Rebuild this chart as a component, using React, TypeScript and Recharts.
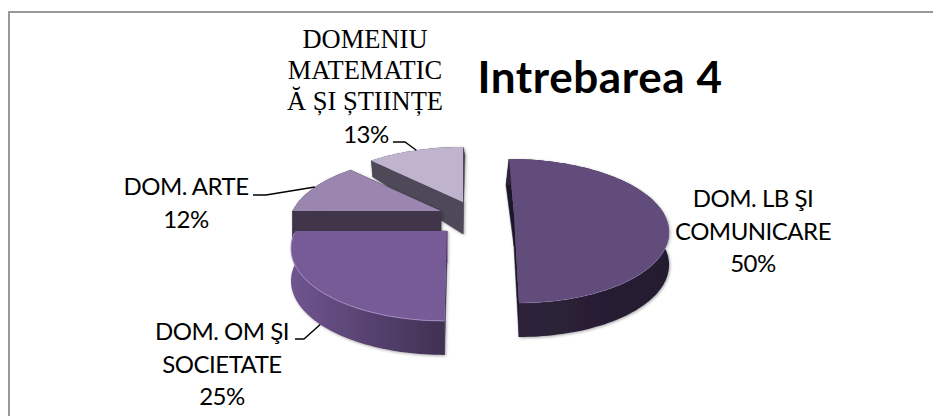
import React from 'react';
import { PieChart, Pie } from 'recharts';

// drawn counter-clockwise from 12 o'clock so the front slices paint last
const categories = ['DOMENIU MATEMATICĂ ȘI ȘTIINȚE', 'DOM. ARTE', 'DOM. OM ŞI SOCIETATE', 'DOM. LB ŞI COMUNICARE'];
const values = [13, 12, 25, 50];
const percents = ['13%', '12%', '25%', '50%'];

const data = categories.map((name, i) => ({ name, value: values[i], slot: i }));

const CX = 470;
const CY = 220;
const RADIUS = 150;
const TILT = 72; // vertical half axis of the ellipse
const PERSPECTIVE = 0.236;

const slices = [
  { dx: -7, dy: -18, r: 1, lean: 0, backDrop: 23, skew: -2, top: '#bfb3cd', wall: '#4e4858', face: '#4e4858' },
  { dx: -29, dy: -9, r: 0.99, lean: 0, backDrop: 6, skew: 0, top: '#9a86ae', wall: '#413548', face: '#413548' },
  { dx: -23, dy: 11, r: 1.01, lean: -2.5, backDrop: 6, skew: 0, top: '#765b96', wall: 'url(#omWall)', face: '#45345c' },
  { dx: 44, dy: -6, r: 1, lean: 5, backDrop: 6, skew: 3, top: '#624c7c', wall: 'url(#lbWall)', face: '#1f1829' },
];

const labels = [
  { x: 366, y: 143, lines: [] as string[], elbow: [[393, 142], [405, 142]] },
  { x: 186, y: 195, lines: ['DOM. ARTE'], elbow: [[253, 195], [266, 195]] },
  { x: 222, y: 340, lines: ['DOM. OM ŞI', 'SOCIETATE'], elbow: [[295, 339], [304, 339]] },
  { x: 753, y: 207, lines: ['DOM. LB ŞI', 'COMUNICARE'], elbow: [] as number[][] },
];
const topLabelLines = ['DOMENIU', 'MATEMATIC', 'Ă ȘI ȘTIINȚE'];

const depthAt = (y: number, backDrop: number) => (y >= 0 ? 32 + 2 * y : 32 + backDrop * y);

const project = (slot: number, angle: number, unit: number, cx = CX, cy = CY, radius = RADIUS) => {
  const s = slices[slot];
  const rad = (angle * Math.PI) / 180;
  const x = Math.cos(rad) * unit;
  const y = -Math.sin(rad) * unit;
  const k = 1 + PERSPECTIVE * y;
  return {
    x: cx + s.dx + x * radius * s.r * k + s.lean * y,
    y: cy + s.dy + y * TILT * s.r * k,
    depth: depthAt(y, s.backDrop),
    bx: s.skew * Math.max(0, -y) * -1,
    front: y,
  };
};

const toPath = (pts: number[][]) => 'M' + pts.map((p) => `${p[0].toFixed(1)},${p[1].toFixed(1)}`).join('L') + 'Z';

const Slice3D = (props: any) => {
  const { cx, cy, outerRadius, startAngle, endAngle, name } = props;
  const slot = categories.indexOf(name);
  const s = slices[slot];
  const a0 = Math.min(startAngle, endAngle);
  const a1 = Math.max(startAngle, endAngle);
  const arc: any[] = [];
  for (let a = a0; a < a1; a += 1.5) arc.push(project(slot, a, 1, cx, cy, outerRadius));
  arc.push(project(slot, a1, 1, cx, cy, outerRadius));
  const apex = project(slot, 0, 0, cx, cy, outerRadius);

  const quad = (p: any) =>
    toPath([
      [apex.x, apex.y],
      [p.x, p.y],
      [p.x + p.bx, p.y + p.depth],
      [apex.x, apex.y + apex.depth],
    ]);
  const first = arc[0];
  const last = arc[arc.length - 1];
  const wall = [
    ...arc.map((p) => [p.x, p.y]),
    ...[...arc].reverse().map((p) => [p.x + p.bx, p.y + p.depth]),
  ];
  const topFace = [[apex.x, apex.y], ...arc.map((p) => [p.x, p.y])];
  const frontRim = arc.filter((p) => p.front > 0).map((p) => `${p.x.toFixed(1)},${p.y.toFixed(1)}`).join(' ');

  return (
    <g>
      <g filter="url(#softShadow)">
        <path d={quad(first)} fill={s.face} stroke={s.face} strokeWidth={0.5} />
        <path d={quad(last)} fill={s.face} stroke={s.face} strokeWidth={0.5} />
        <path d={toPath(wall)} fill={s.wall} />
      </g>
      <path d={toPath(topFace)} fill={s.top} />
      {frontRim && <polyline points={frontRim} fill="none" stroke="#a78fc7" strokeOpacity={slot === 2 ? 0.9 : 0.25} strokeWidth={1} />}
    </g>
  );
};

const labelText = { textAnchor: 'middle', fontFamily: 'Lato', fontSize: 24, letterSpacing: -0.5, fill: '#000' } as const;

const SliceLabel = (props: any) => {
  const { name, midAngle, cx, cy, outerRadius } = props;
  const slot = categories.indexOf(name);
  const l = labels[slot];
  const lineGap = 32.5;
  const end = project(slot, midAngle, 1, cx, cy, outerRadius);
  const endY = end.front > 0 ? end.y + end.depth : end.y;
  return (
    <g>
      {l.elbow.length > 0 && (
        <polyline
          points={[...l.elbow, [end.x, endY]].map((p) => p.join(',')).join(' ')}
          fill="none"
          stroke="#000"
          strokeWidth={1.4}
        />
      )}
      {l.lines.map((t, i) => (
        <text key={t} x={l.x} y={l.y + i * lineGap} {...labelText}>
          {t}
        </text>
      ))}
      <text x={l.x} y={l.y + l.lines.length * lineGap} {...labelText}>
        {percents[slot]}
      </text>
    </g>
  );
};

export default function App() {
  return (
    <div style={{ position: 'absolute', left: 0, top: 0, width: 933, height: 416, background: '#fff', overflow: 'hidden' }}>
      <div style={{ position: 'absolute', left: 8, top: 11, right: 0, bottom: 0, borderLeft: '2px solid #999', borderTop: '2px solid #999' }} />
      <div style={{ position: 'absolute', left: 0, top: 0 }}>
        <PieChart width={933} height={416} margin={{ top: 0, right: 0, bottom: 0, left: 0 }}>
          <defs>
            <linearGradient id="omWall" x1="0" y1="0" x2="1" y2="0">
              <stop offset="0%" stopColor="#6f5590" />
              <stop offset="100%" stopColor="#403052" />
            </linearGradient>
            <linearGradient id="lbWall" x1="0" y1="0" x2="1" y2="0">
              <stop offset="0%" stopColor="#2e2339" />
              <stop offset="100%" stopColor="#241b30" />
            </linearGradient>
            <filter id="softShadow" x="-10%" y="-10%" width="120%" height="120%">
              <feDropShadow dx={1} dy={1} stdDeviation={1.5} floodColor="#000" floodOpacity={0.35} />
            </filter>
          </defs>
          <Pie
            data={data}
            dataKey="value"
            nameKey="name"
            cx={CX}
            cy={CY}
            outerRadius={RADIUS}
            startAngle={90}
            endAngle={450}
            paddingAngle={0}
            isAnimationActive={false}
            shape={Slice3D}
            label={SliceLabel}
            labelLine={false}
          />
          {topLabelLines.map((t, i) => (
            <text key={t} x={365} y={48 + i * 31} textAnchor="middle" fontFamily="Liberation Serif" fontSize={26.5} fill="#000">
              {t}
            </text>
          ))}
          <text x={600} y={93} textAnchor="middle" fontFamily="Lato" fontWeight={700} fontSize={44} letterSpacing={0.6} fill="#000">
            Intrebarea 4
          </text>
        </PieChart>
      </div>
    </div>
  );
}
